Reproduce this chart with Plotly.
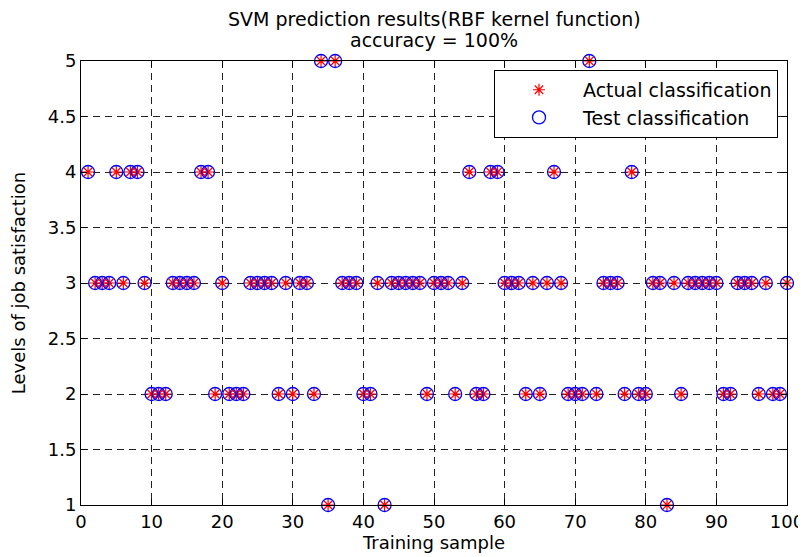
import plotly.graph_objects as go

# Sample indices 1..100
samples = list(range(1, 101))

# Actual classification (levels of job satisfaction)
actual = [4, 3, 3, 3, 4, 3, 4, 4, 3, 2,
          2, 2, 3, 3, 3, 3, 4, 4, 2, 3,
          2, 2, 2, 3, 3, 3, 3, 2, 3, 2,
          3, 3, 2, 5, 1, 5, 3, 3, 3, 2,
          2, 3, 1, 3, 3, 3, 3, 3, 2, 3,
          3, 3, 2, 3, 4, 2, 2, 4, 4, 3,
          3, 3, 2, 3, 2, 3, 4, 3, 2, 2,
          2, 5, 2, 3, 3, 3, 2, 4, 2, 2,
          3, 3, 1, 3, 2, 3, 3, 3, 3, 3,
          2, 2, 3, 3, 3, 2, 3, 2, 2, 3]

# Test (predicted) classification — accuracy 100%
predicted = [4, 3, 3, 3, 4, 3, 4, 4, 3, 2,
             2, 2, 3, 3, 3, 3, 4, 4, 2, 3,
             2, 2, 2, 3, 3, 3, 3, 2, 3, 2,
             3, 3, 2, 5, 1, 5, 3, 3, 3, 2,
             2, 3, 1, 3, 3, 3, 3, 3, 2, 3,
             3, 3, 2, 3, 4, 2, 2, 4, 4, 3,
             3, 3, 2, 3, 2, 3, 4, 3, 2, 2,
             2, 5, 2, 3, 3, 3, 2, 4, 2, 2,
             3, 3, 1, 3, 2, 3, 3, 3, 3, 3,
             2, 2, 3, 3, 3, 2, 3, 2, 2, 3]

x_ticks = [0, 10, 20, 30, 40, 50, 60, 70, 80, 90, 100]
y_ticks = [1, 1.5, 2, 2.5, 3, 3.5, 4, 4.5, 5]
y_tick_labels = ["1", "1.5", "2", "2.5", "3", "3.5", "4", "4.5", "5"]

title_lines = ["SVM prediction results(RBF kernel function)", "accuracy = 100%"]

FONT = "DejaVu Sans"

fig = go.Figure()
fig.add_trace(go.Scatter(
    x=samples, y=actual, mode="markers", name="Actual classification",
    marker=dict(symbol="asterisk-open", size=10, color="red",
                line=dict(color="red", width=1.2)),
    cliponaxis=False,
))
fig.add_trace(go.Scatter(
    x=samples, y=predicted, mode="markers", name="Test classification",
    marker=dict(symbol="circle-open", size=13, color="blue",
                line=dict(color="blue", width=1.3)),
    cliponaxis=False,
))

# the page body adds an 8px offset, so the figure is 8px smaller
W, H = 798, 549
M_L, M_R, M_T, M_B = 73, 19, 53, 52
PLOT_H = H - M_T - M_B

fig.update_layout(
    width=W, height=H,
    margin=dict(l=M_L, r=M_R, t=M_T, b=M_B),
    paper_bgcolor="white", plot_bgcolor="white",
    font=dict(family=FONT, size=18, color="black"),
    showlegend=True,
    legend=dict(x=0.585, y=0.98, xanchor="left", yanchor="top",
                bgcolor="white", bordercolor="black", borderwidth=1,
                font=dict(family=FONT, size=19, color="black"),
                itemwidth=78, tracegroupgap=0),
    annotations=[
        dict(text=title_lines[0], xref="paper", yref="paper", x=0.5,
             y=1 + 42.5 / PLOT_H, xanchor="center", yanchor="middle",
             showarrow=False, font=dict(family=FONT, size=19, color="black")),
        dict(text=title_lines[1], xref="paper", yref="paper", x=0.5,
             y=1 + 20.5 / PLOT_H, xanchor="center", yanchor="middle",
             showarrow=False, font=dict(family=FONT, size=19, color="black")),
    ],
)

fig.update_xaxes(
    range=[0, 100], tickmode="array", tickvals=x_ticks,
    showline=True, linecolor="black", linewidth=1, mirror="ticks",
    ticks="inside", ticklen=6, tickcolor="black",
    showgrid=True, gridcolor="#222222", gridwidth=1, griddash="7px,5px",
    zeroline=False, automargin=False,
    title=dict(text="Training sample", standoff=4, font=dict(family=FONT, size=18)),
    tickfont=dict(family=FONT, size=18),
)
fig.update_yaxes(
    range=[1, 5], tickmode="array", tickvals=y_ticks, ticktext=y_tick_labels,
    showline=True, linecolor="black", linewidth=1, mirror="ticks",
    ticks="inside", ticklen=6, tickcolor="black",
    showgrid=True, gridcolor="#222222", gridwidth=1, griddash="7px,5px",
    zeroline=False, automargin=False,
    title=dict(text="Levels of job satisfaction", standoff=22, font=dict(family=FONT, size=18)),
    tickfont=dict(family=FONT, size=18),
)

fig.write_html("out.html")
